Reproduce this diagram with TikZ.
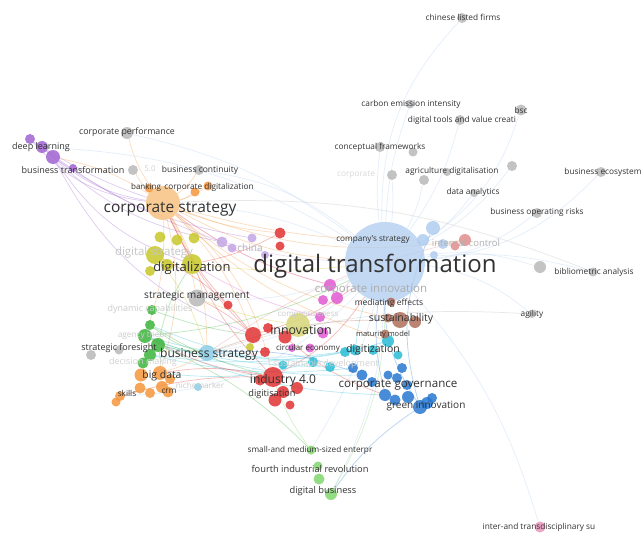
\documentclass[tikz,border=0pt]{standalone}
\usepackage{fontspec}
\setmainfont{Open Sans}
\pgfdeclarelayer{back}
\pgfdeclarelayer{bg}
\pgfsetlayers{back,bg,main}
\definecolor{cOr}{RGB}{245,150,60}
\definecolor{cOrL}{RGB}{248,195,130}
\definecolor{cYe}{RGB}{200,200,40}
\definecolor{cOl}{RGB}{215,215,120}
\definecolor{cGr}{RGB}{60,180,60}
\definecolor{cRe}{RGB}{225,50,50}
\definecolor{cPu}{RGB}{160,100,210}
\definecolor{cLi}{RGB}{195,165,230}
\definecolor{cMa}{RGB}{225,90,210}
\definecolor{cCy}{RGB}{40,190,215}
\definecolor{cLc}{RGB}{140,205,230}
\definecolor{cBl}{RGB}{40,120,210}
\definecolor{cLb}{RGB}{175,205,240}
\definecolor{cBr}{RGB}{175,110,90}
\definecolor{cSa}{RGB}{225,140,140}
\definecolor{cGy}{RGB}{185,185,185}
\definecolor{cLg}{RGB}{130,215,110}
\definecolor{cPk}{RGB}{235,150,190}
\definecolor{cTx}{RGB}{50,50,50}
\newcommand\vn[5]{\node[kw=#4pt, fill=#5] (#1) at (#2,#3) {};}
\newcommand\vl[5]{\node[lab, font=\fontsize{#4}{#4}\selectfont, text=#5] at (#2,#3) {#1};}
\newcommand\ve[4]{\draw[edg, draw=#4] (#1) to[bend left=#3] (#2);}
\tikzset{
  kw/.style={circle, inner sep=0pt, minimum size=#1, draw=none, fill opacity=0.85},
  lab/.style={inner sep=0pt, anchor=center},
  edg/.style={line width=0.7pt, draw opacity=0.33},
}
\begin{document}
\begin{tikzpicture}[x=1pt,y=-1pt]
\useasboundingbox (0,0) rectangle (641,538);
\begin{pgfonlayer}{back}
\fill[white] (0,0) rectangle (641,538);
\end{pgfonlayer}
% big light-blue hub
\node[circle, inner sep=0pt, minimum size=80pt, fill=cLb, fill opacity=0.75] (dt) at (385,262) {};
% gray
\vn{clf}{462}{18}{10}{cGy}
\vn{cei}{410}{104}{9}{cGy}
\vn{bsc}{521}{110}{11}{cGy}
\vn{dtv}{460}{120}{10}{cGy}
\vn{cf}{380}{147}{10}{cGy}
\vn{g1}{413}{152}{9}{cGy}
\vn{gcorp}{392}{175}{10}{cGy}
\vn{ad1}{447}{172}{8}{cGy}
\vn{ad2}{424}{180}{10}{cGy}
\vn{g2}{512}{166}{10}{cGy}
\vn{da}{474}{193}{8}{cGy}
\vn{be}{601}{172}{10}{cGy}
\vn{bor}{537}{213}{10}{cGy}
\vn{ba}{593}{272}{9}{cGy}
\vn{g3}{540}{267}{12}{cGy}
\vn{ag}{532}{314}{8}{cGy}
\vn{cp}{127}{133}{12}{cGy}
\vn{bc}{199}{170}{10}{cGy}
\vn{g5}{133}{170}{10}{cGy}
\vn{sm}{197}{298}{17}{cGy}
\vn{sf1}{91}{355}{10}{cGy}
\vn{sf2}{119}{350}{9}{cGy}
% purple
\vn{p1}{30}{139}{10}{cPu}
\vn{p2}{42}{147}{12}{cPu}
\vn{p3}{53}{157}{14}{cPu}
\vn{p4}{73}{168}{8}{cPu}
% orange corporate strategy
\vn{cs}{163}{203}{34}{cOrL}
\vn{bk}{149}{188}{9}{cOr}
\vn{cd1}{195}{192}{9}{cOr}
\vn{cd2}{208}{186}{9}{cOr}
% yellow
\vn{y1}{160}{237}{11}{cYe}
\vn{y2}{177}{240}{11}{cYe}
\vn{y3}{194}{238}{11}{cYe}
\vn{y4}{155}{255}{18}{cYe}
\vn{y5}{150}{271}{10}{cYe}
\vn{y6}{167}{265}{12}{cYe}
\vn{y7}{192}{264}{20}{cYe}
\vn{y8}{298}{325}{24}{cOl}
\vn{y9}{250}{347}{8}{cYe}
% green
\vn{gr1}{152}{310}{10}{cGr}
\vn{gr2}{150}{325}{10}{cGr}
\vn{gr3}{145}{336}{14}{cGr}
\vn{gr4}{158}{345}{14}{cGr}
\vn{gr5}{150}{355}{12}{cGr}
\vn{gr6}{143}{363}{11}{cGr}
\vn{bs}{207}{353}{16}{cLc}
\vn{nm}{198}{387}{8}{cLc}
% orange big data
\vn{o1}{141}{375}{13}{cOr}
\vn{o2}{160}{373}{14}{cOr}
\vn{o3}{140}{388}{11}{cOr}
\vn{o4}{162}{387}{12}{cOr}
\vn{o5}{150}{393}{10}{cOr}
\vn{o6}{170}{379}{10}{cOr}
\vn{sk1}{120}{396}{10}{cOr}
\vn{sk2}{116}{402}{9}{cOr}
\vn{crm}{168}{392}{11}{cOr}
% red
\vn{r1}{228}{305}{9}{cRe}
\vn{r2}{280}{233}{11}{cRe}
\vn{r3}{280}{246}{9}{cRe}
\vn{r4}{253}{335}{16}{cRe}
\vn{r5}{268}{328}{10}{cRe}
\vn{r6}{285}{337}{13}{cRe}
\vn{r7}{265}{352}{10}{cRe}
\vn{r8}{273}{377}{20}{cRe}
\vn{r9}{297}{388}{12}{cRe}
\vn{r10}{275}{400}{13}{cRe}
\vn{r11}{283}{392}{12}{cRe}
\vn{r12}{260}{380}{11}{cRe}
\vn{r13}{290}{405}{9}{cRe}
% lilac
\vn{l1}{222}{242}{11}{cLi}
\vn{l2}{232}{248}{9}{cLi}
\vn{l3}{252}{238}{9}{cLi}
\vn{l4}{265}{255}{8}{cLi}
% magenta
\vn{m1}{330}{285}{12}{cMa}
\vn{m2}{337}{298}{12}{cMa}
\vn{m3}{323}{300}{10}{cMa}
\vn{m4}{320}{317}{10}{cMa}
\vn{m5}{323}{333}{11}{cMa}
\vn{m6}{310}{348}{9}{cMa}
\vn{m7}{292}{348}{8}{cMa}
% cyan
\vn{c1}{313}{362}{10}{cCy}
\vn{c2}{330}{367}{10}{cCy}
\vn{c3}{345}{352}{10}{cCy}
\vn{c4}{355}{350}{11}{cCy}
\vn{c5}{373}{350}{10}{cCy}
\vn{c6}{388}{341}{12}{cCy}
\vn{c7}{398}{355}{9}{cCy}
\vn{c8}{283}{365}{9}{cCy}
% blue
\vn{b1}{353}{368}{10}{cBl}
\vn{b2}{362}{375}{11}{cBl}
\vn{b3}{372}{382}{10}{cBl}
\vn{b4}{385}{395}{12}{cBl}
\vn{b5}{395}{400}{11}{cBl}
\vn{b6}{397}{378}{10}{cBl}
\vn{b7}{408}{397}{12}{cBl}
\vn{b8}{420}{407}{14}{cBl}
\vn{b9}{427}{403}{12}{cBl}
\vn{b10}{388}{375}{9}{cBl}
\vn{b11}{407}{385}{10}{cBl}
\vn{b12}{402}{368}{10}{cBl}
\vn{b13}{432}{398}{10}{cBl}
% brown
\vn{br1}{400}{320}{16}{cBr}
\vn{br2}{415}{322}{12}{cBr}
\vn{br3}{391}{302}{9}{cBr}
\vn{br4}{385}{334}{9}{cBr}
\vn{br5}{388}{318}{9}{cBr}
% light blue
\vn{lb1}{433}{228}{14}{cLb}
\vn{lb2}{423}{240}{12}{cLb}
\vn{lb3}{443}{244}{10}{cLb}
\vn{lb4}{434}{255}{8}{cLb}
% salmon
\vn{ic1}{465}{240}{12}{cSa}
\vn{ic2}{455}{246}{9}{cSa}
% light green
\vn{lg1}{311}{450}{9}{cLg}
\vn{lg2}{318}{466}{9}{cLg}
\vn{lg3}{319}{479}{11}{cLg}
\vn{lg4}{331}{494}{12}{cLg}
% pink
\vn{it}{540}{527}{11}{cPk}
% edges
\begin{pgfonlayer}{bg}
\ve{dt}{clf}{22}{cLb}
\ve{dt}{cei}{8}{cLb}
\ve{dt}{bsc}{-20}{cLb}
\ve{dt}{dtv}{-10}{cLb}
\ve{dt}{cf}{6}{cLb}
\ve{dt}{ad2}{-8}{cLb}
\ve{dt}{da}{-10}{cLb}
\ve{dt}{be}{-20}{cLb}
\ve{dt}{bor}{-15}{cLb}
\ve{dt}{ba}{10}{cLb}
\ve{dt}{g3}{12}{cLb}
\ve{dt}{ag}{15}{cLb}
\ve{dt}{it}{12}{cLb}
\ve{dt}{lg4}{12}{cLb}
\ve{dt}{lg1}{8}{cLb}
\ve{dt}{cs}{-10}{cLb}
\ve{dt}{sm}{12}{cLb}
\ve{dt}{bs}{15}{cLb}
\ve{dt}{bc}{-15}{cLb}
\ve{dt}{gcorp}{-5}{cLb}
\ve{dt}{g2}{-12}{cLb}
\ve{dt}{p2}{-14}{cLb}
\ve{dt}{cp}{-12}{cLb}
\ve{dt}{sk1}{22}{cLb}
\ve{ba}{cs}{-12}{cGy}
\ve{ag}{bs}{-10}{cGy}
\ve{cs}{bk}{10}{cOr}
\ve{cs}{cd1}{-10}{cOr}
\ve{cs}{cd2}{-10}{cOr}
\ve{cs}{dt}{-12}{cOr}
\ve{cs}{bs}{15}{cOr}
\ve{cs}{r4}{12}{cOr}
\ve{cs}{y7}{5}{cOr}
\ve{cs}{o2}{15}{cOr}
\ve{cs}{bc}{-10}{cOr}
\ve{cs}{cp}{10}{cOr}
\ve{cs}{g5}{8}{cOr}
\ve{cs}{p3}{-10}{cOr}
\ve{cs}{sm}{8}{cOr}
\ve{cs}{gr3}{10}{cOr}
\ve{cs}{r8}{18}{cOr}
\ve{cs}{lb2}{-8}{cOr}
\ve{cs}{br1}{-14}{cOr}
\ve{cs}{m1}{-10}{cOr}
\ve{cs}{r2}{-8}{cOr}
\ve{cs}{c6}{-12}{cOr}
\ve{cs}{ic1}{-14}{cOr}
\ve{p3}{cs}{-14}{cPu}
\ve{p2}{cs}{-6}{cPu}
\ve{p3}{y7}{-18}{cPu}
\ve{p3}{r4}{-20}{cPu}
\ve{p2}{l1}{-16}{cPu}
\ve{p1}{cs}{-20}{cPu}
\ve{p3}{l3}{-12}{cPu}
\ve{p1}{l1}{-8}{cPu}
\ve{gr3}{bs}{-8}{cGr}
\ve{gr4}{bs}{-4}{cGr}
\ve{gr2}{bs}{-12}{cGr}
\ve{gr3}{c4}{-12}{cCy}
\ve{gr4}{b4}{-10}{cCy}
\ve{gr5}{c3}{-8}{cCy}
\ve{gr2}{c1}{-10}{cCy}
\ve{gr4}{c2}{-6}{cCy}
\ve{gr5}{b1}{-9}{cCy}
\ve{gr3}{b2}{-11}{cCy}
\ve{gr2}{r8}{-8}{cGr}
\ve{gr3}{dt}{-10}{cGr}
\ve{gr4}{y7}{10}{cGr}
\ve{gr4}{o2}{6}{cGr}
\ve{gr1}{r4}{-6}{cGr}
\ve{gr4}{lg1}{10}{cGr}
\ve{r4}{dt}{-10}{cRe}
\ve{r8}{dt}{-14}{cRe}
\ve{r4}{cs}{10}{cRe}
\ve{r8}{y7}{8}{cRe}
\ve{r6}{b4}{-10}{cRe}
\ve{r4}{sm}{-6}{cRe}
\ve{r1}{cs}{8}{cRe}
\ve{r8}{o2}{-10}{cRe}
\ve{r2}{y7}{8}{cRe}
\ve{r8}{gr3}{10}{cRe}
\ve{r8}{sk1}{-8}{cRe}
\ve{r4}{y4}{-12}{cRe}
\ve{b8}{dt}{15}{cBl}
\ve{b4}{dt}{10}{cBl}
\ve{b2}{bs}{-12}{cBl}
\ve{b8}{lb1}{20}{cBl}
\ve{b8}{lg4}{-10}{cBl}
\ve{c4}{dt}{8}{cCy}
\ve{c6}{bs}{12}{cCy}
\ve{c1}{o2}{10}{cCy}
\ve{lg4}{dt}{-14}{cLg}
\ve{lg1}{r8}{8}{cLg}
\ve{m1}{cs}{10}{cMa}
\ve{m2}{dt}{8}{cMa}
\ve{m4}{y7}{8}{cMa}
\ve{y7}{dt}{-6}{cYe}
\ve{y4}{bs}{10}{cYe}
\ve{y8}{sm}{6}{cYe}
\ve{br1}{bs}{-10}{cBr}
\ve{ic1}{bs}{-10}{cSa}
\ve{l1}{dt}{-6}{cLi}
\ve{o2}{bs}{-6}{cOr}
\end{pgfonlayer}
% labels
\vl{chinese listed firms}{463}{17}{8.3}{cTx}
\vl{carbon emission intensity}{411}{104}{8.3}{cTx}
\vl{bsc}{521}{110}{8.3}{cTx}
\vl{digital tools and value creati}{462}{120}{8.3}{cTx}
\vl{conceptual frameworks}{380}{147}{8.3}{cTx}
\vl{corporate}{356}{175}{8.3}{gray!30}
\vl{agriculture digitalisation}{452}{171}{8.3}{cTx}
\vl{data analytics}{473}{192}{8.3}{cTx}
\vl{business ecosystem}{603}{172}{8.3}{cTx}
\vl{business operating risks}{537}{212}{8.3}{cTx}
\vl{bibliometric analysis}{594}{272}{8.3}{cTx}
\vl{agility}{532}{314}{8.3}{cTx}
\vl{corporate performance}{127}{132}{8.8}{cTx}
\vl{deep learning}{41}{147}{9}{cTx}
\vl{business transformation}{73}{170}{9}{cTx}
\vl{5.0}{150}{169}{8}{gray!35}
\vl{business continuity}{200}{170}{8.5}{cTx}
\vl{banking}{146}{187}{8}{cTx}
\vl{corporate digitalization}{209}{187}{8.3}{cTx}
\vl{corporate strategy}{170}{209}{15.5}{cTx}
\vl{digital strategy}{154}{253}{11.4}{gray!45}
\vl{digitalization}{192}{268}{13}{cTx}
\vl{china}{250}{248}{10}{gray!60}
\vl{digital transformation}{375}{266}{24}{cTx}
\vl{company's strategy}{373}{240}{8.2}{cTx}
\vl{internal control}{466}{243}{9.5}{gray!60}
\vl{corporate innovation}{371}{290}{11.5}{gray!65}
\vl{mediating effects}{389}{303}{8.5}{cTx}
\vl{sustainability}{401}{319}{10.5}{cTx}
\vl{maturity model}{383}{335}{7.5}{cTx}
\vl{strategic management}{197}{296}{10.1}{cTx}
\vl{dynamic capabilities}{150}{309}{9}{gray!40}
\vl{competitiveness}{308}{315}{8}{gray!40}
\vl{innovation}{301}{330}{12.4}{cTx}
\vl{agency theory}{145}{335}{8.3}{gray!40}
\vl{strategic foresight}{119}{348}{9}{cTx}
\vl{business strategy}{209}{354}{12.1}{cTx}
\vl{decision making}{143}{362}{9}{gray!35}
\vl{circular economy}{308}{348}{8}{cTx}
\vl{digitization}{373}{350}{10.5}{cTx}
\vl{sustainable development}{326}{364}{9}{gray!35}
\vl{big data}{162}{376}{10.4}{cTx}
\vl{nichemarker}{200}{385}{8.2}{gray!40}
\vl{industry 4.0}{283}{380}{12}{cTx}
\vl{skills}{127}{393}{8.2}{cTx}
\vl{crm}{169}{391}{8.2}{cTx}
\vl{digitisation}{272}{394}{9.2}{cTx}
\vl{corporate governance}{398}{385}{11.6}{cTx}
\vl{green innovation}{426}{406}{10}{cTx}
\vl{small-and medium-sized enterpr}{310}{450}{8.2}{cTx}
\vl{fourth industrial revolution}{310}{469}{9.3}{cTx}
\vl{digital business}{323}{491}{9.3}{cTx}
\vl{inter-and transdisciplinary su}{539}{527}{8.3}{cTx}
\end{tikzpicture}
\end{document}
